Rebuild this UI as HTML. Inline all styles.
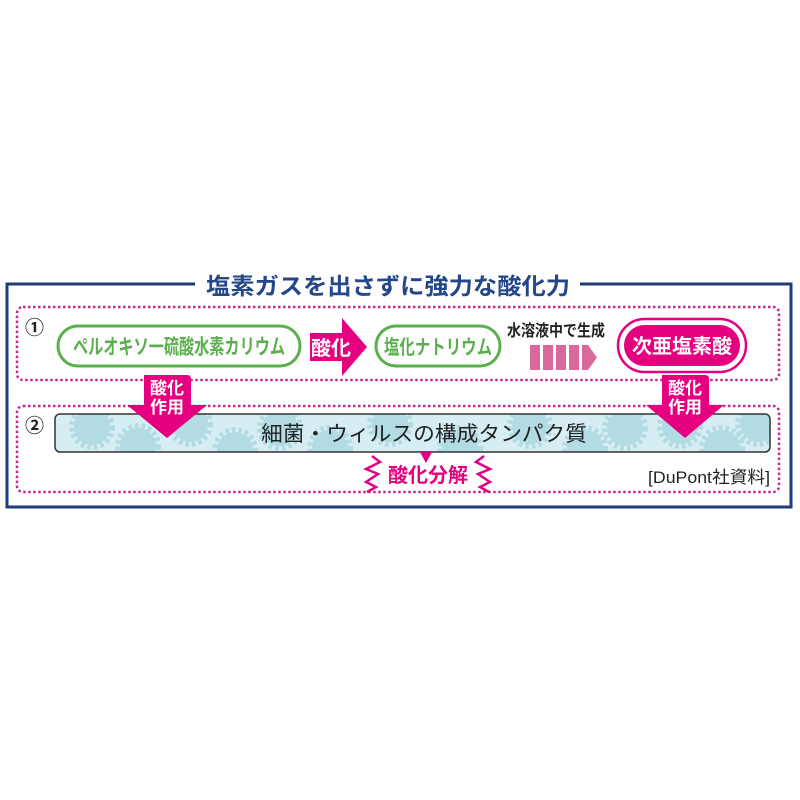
<!DOCTYPE html>
<html><head><meta charset="utf-8"><style>
body{margin:0;background:#fff;width:800px;height:800px;overflow:hidden}
svg{display:block}
text{font-family:"Liberation Sans","Noto Sans CJK JP",sans-serif}
</style></head><body>
<svg width="800" height="800" viewBox="0 0 800 800">
<defs>
<clipPath id="band"><rect x="55" y="414" width="715" height="38" rx="5"/></clipPath>
<g id="gear"><circle r="18" fill="#b2dbe4"/><circle r="20" fill="none" stroke="#b2dbe4" stroke-width="6" stroke-dasharray="3.5 3"/></g>
</defs>
<path d="M195 284 H7 V507 H791 V284 H580" fill="none" stroke="#1f3c78" stroke-width="3"/>
<text x="388" y="294" font-size="23" font-weight="bold" fill="#24478a" text-anchor="middle" textLength="364" lengthAdjust="spacingAndGlyphs">塩素ガスを出さずに強力な酸化力</text>
<rect x="17" y="307" width="762" height="73" rx="6" fill="none" stroke="#c8288f" stroke-width="2.5" stroke-dasharray="2.5 2.5"/>
<rect x="17" y="406" width="762" height="86" rx="6" fill="none" stroke="#c8288f" stroke-width="2.5" stroke-dasharray="2.5 2.5"/>
<text x="25" y="334" font-size="19" font-weight="bold" fill="#222">①</text>
<text x="25" y="432" font-size="19" font-weight="bold" fill="#222">②</text>
<rect x="58" y="326" width="242" height="40" rx="20" fill="#fff" stroke="#5ab04c" stroke-width="3"/>
<text x="179" y="354" font-size="21" font-weight="bold" fill="#5ab04c" text-anchor="middle" textLength="212" lengthAdjust="spacingAndGlyphs">ペルオキソ一硫酸水素カリウム</text>
<path d="M310 333 H342 V318 L367 347 L342 376 V361 H310 Z" fill="#e5007f"/>
<text x="331" y="355" font-size="20" font-weight="bold" fill="#fff" text-anchor="middle">酸化</text>
<rect x="376" y="326" width="124" height="40" rx="20" fill="#fff" stroke="#5ab04c" stroke-width="3"/>
<text x="438" y="354" font-size="20" font-weight="bold" fill="#5ab04c" text-anchor="middle" textLength="108" lengthAdjust="spacingAndGlyphs">塩化ナトリウム</text>
<text x="556" y="336" font-size="16" font-weight="bold" fill="#222" text-anchor="middle" textLength="98" lengthAdjust="spacingAndGlyphs">水溶液中で生成</text>
<g fill="#d9699c"><rect x="530" y="345" width="10" height="25"/><rect x="543" y="345" width="10" height="25"/><rect x="556" y="345" width="10" height="25"/><rect x="569" y="345" width="10" height="25"/><path d="M582 345 H588 L597 357.5 L588 370 H582 Z"/></g>
<rect x="618" y="319" width="128" height="53" rx="26.5" fill="#fff" stroke="#e5007f" stroke-width="2.5"/>
<rect x="624" y="325" width="116" height="41" rx="20.5" fill="#e5007f"/>
<text x="682" y="353" font-size="20" font-weight="bold" fill="#fff" text-anchor="middle" textLength="100" lengthAdjust="spacingAndGlyphs">次亜塩素酸</text>
<rect x="55" y="414" width="715" height="38" rx="5" fill="#d6eef3"/>
<g clip-path="url(#band)">
<use href="#gear" x="92" y="427"/><use href="#gear" x="138" y="446"/><use href="#gear" x="190" y="424"/><use href="#gear" x="235" y="450"/><use href="#gear" x="280" y="428"/>
<use href="#gear" x="330" y="448"/><use href="#gear" x="390" y="424"/><use href="#gear" x="460" y="448"/><use href="#gear" x="530" y="426"/>
<use href="#gear" x="585" y="448"/><use href="#gear" x="625" y="428"/><use href="#gear" x="680" y="426"/><use href="#gear" x="722" y="448"/><use href="#gear" x="758" y="424"/>
</g>
<rect x="55" y="414" width="715" height="38" rx="5" fill="none" stroke="#333" stroke-width="1.5"/>
<text x="424" y="441" font-size="21" fill="#222" text-anchor="middle" textLength="326" lengthAdjust="spacingAndGlyphs">細菌・ウィルスの構成タンパク質</text>
<path d="M144 375 H187 Q191 375 191 379 V405 H207 L167 438 L127 405 H144 Z" fill="#e5007f"/>
<text x="167" y="394" font-size="17" font-weight="bold" fill="#fff" text-anchor="middle">酸化</text>
<text x="167" y="413" font-size="17" font-weight="bold" fill="#fff" text-anchor="middle">作用</text>
<path d="M662 375 H705 Q709 375 709 379 V405 H724 L685 438 L646 405 H662 Z" fill="#e5007f"/>
<text x="685" y="394" font-size="17" font-weight="bold" fill="#fff" text-anchor="middle">酸化</text>
<text x="685" y="413" font-size="17" font-weight="bold" fill="#fff" text-anchor="middle">作用</text>
<path d="M421 452 H431 L426 461 Z" fill="#e5007f" stroke="#e5007f" stroke-width="2"/>
<text x="428" y="482" font-size="20" font-weight="bold" fill="#e5007f" text-anchor="middle">酸化分解</text>
<path d="M372 456 L380 462 L366 469 L378 474 L366 482 L376 487 L367 492" fill="none" stroke="#e5007f" stroke-width="2.5"/>
<path d="M484 456 L476 462 L490 469 L478 474 L490 482 L480 487 L489 492" fill="none" stroke="#e5007f" stroke-width="2.5"/>
<text x="770" y="483" font-size="17" fill="#222" text-anchor="end" textLength="122" lengthAdjust="spacingAndGlyphs">[DuPont社資料]</text>
</svg>
</body></html>
